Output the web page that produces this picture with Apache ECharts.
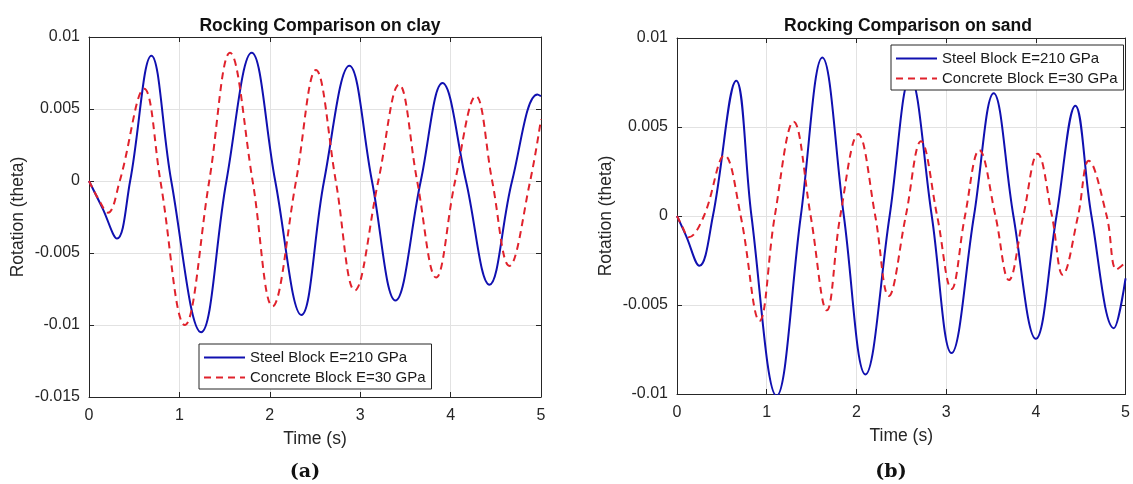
<!DOCTYPE html>
<html>
<head>
<meta charset="utf-8">
<script src="https://cdn.jsdelivr.net/npm/echarts@6/dist/echarts.min.js"></script>
<style>
html,body{margin:0;padding:0;background:#fff;}
#c{width:1133px;height:484px;}
</style>
</head>
<body>
<div id="c"></div>
<script>
// ---------- data ----------
const seriesNames = ['Steel Block E=210 GPa', 'Concrete Block E=30 GPa'];
const titles = ['Rocking Comparison on clay', 'Rocking Comparison on sand'];
const captions = ['a', 'b'];
const xTicks = [0, 1, 2, 3, 4, 5];
const yTicksClay = [-0.015, -0.01, -0.005, 0, 0.005, 0.01];
const yTicksSand = [-0.01, -0.005, 0, 0.005, 0.01];

// Clay - steel (solid blue)
const claySteelT = [0, 0.15, 0.31, 0.455, 0.69, 0.91, 1.24, 1.52, 1.80, 2.06, 2.35, 2.60, 2.88, 3.13, 3.39, 3.67, 3.91, 4.17, 4.43, 4.68, 4.96, 5.0];
const claySteelV = [0, -0.0019, -0.0040, 0, 0.0087, 0, -0.0105, 0, 0.0089, 0, -0.0093, 0, 0.0080, 0, -0.0083, 0, 0.0068, 0, -0.0072, 0, 0.0060, 0.0059];
// Clay - concrete (dashed red)
const clayConcT = [0, 0.10, 0.21, 0.34, 0.61, 0.79, 1.06, 1.33, 1.56, 1.81, 2.03, 2.29, 2.51, 2.73, 2.94, 3.20, 3.43, 3.63, 3.84, 4.05, 4.28, 4.46, 4.65, 4.88, 5.0];
const clayConcV = [0, -0.0012, -0.0022, 0, 0.0064, 0, -0.0100, 0, 0.0089, 0, -0.0087, 0, 0.0077, 0, -0.0076, 0, 0.0067, 0, -0.0067, 0, 0.0059, 0, -0.0059, 0, 0.0043];
// Sand - steel (solid blue)
const sandSteelT = [0, 0.10, 0.25, 0.40, 0.66, 0.83, 1.11, 1.38, 1.62, 1.86, 2.10, 2.37, 2.60, 2.84, 3.06, 3.31, 3.53, 3.75, 4.00, 4.23, 4.44, 4.62, 4.87, 5.0];
const sandSteelV = [0, -0.0011, -0.0028, 0, 0.0076, 0, -0.0101, 0, 0.0089, 0, -0.0089, 0, 0.0078, 0, -0.0077, 0, 0.0069, 0, -0.0069, 0, 0.0062, 0, -0.0063, -0.0035];
// Sand - concrete (dashed red)
const sandConcT = [0, 0.06, 0.13, 0.30, 0.53, 0.71, 0.92, 1.09, 1.30, 1.49, 1.67, 1.82, 2.02, 2.21, 2.36, 2.55, 2.72, 2.90, 3.06, 3.21, 3.37, 3.55, 3.70, 3.86, 4.02, 4.18, 4.30, 4.47, 4.59, 4.79, 4.90, 5.0];
const sandConcV = [0, -0.0006, -0.0012, 0, 0.0034, 0, -0.0059, 0, 0.0053, 0, -0.0053, 0, 0.0046, 0, -0.0045, 0, 0.0042, 0, -0.0041, 0, 0.0037, 0, -0.0036, 0, 0.0035, 0, -0.0033, 0, 0.0031, 0, -0.0030, -0.0026];

// ---------- chart ----------
const pairs = (t, v) => t.map((x, i) => [x, v[i]]);
const FONT = '"Liberation Sans", Arial, Helvetica, sans-serif';
const AX = '#262626';
const BLUE = '#1010b0';
const RED = '#e0222c';

const grids = [
  {left: 89, top: 37, width: 452, height: 360},
  {left: 677, top: 38, width: 452, height: 356}
];
const yRanges = [yTicksClay, yTicksSand];

const xAxes = [], yAxes = [];
grids.forEach((g, i) => {
  const xBase = {
    type: 'value', gridIndex: i, min: xTicks[0], max: xTicks[xTicks.length - 1], interval: 1,
    axisLine: {show: true, onZero: false, lineStyle: {color: AX, width: 1}},
    axisTick: {show: true, inside: true, length: 5, lineStyle: {color: AX}}
  };
  xAxes.push(Object.assign({}, xBase, {
    position: 'bottom',
    name: 'Time (s)', nameLocation: 'middle', nameGap: 33,
    nameTextStyle: {fontFamily: FONT, fontSize: 17.5, color: AX},
    axisLabel: {fontFamily: FONT, fontSize: 16, color: AX, margin: 11},
    splitLine: {show: true, lineStyle: {color: '#e2e2e2', width: 1}}
  }));
  xAxes.push(Object.assign({}, xBase, {
    position: 'top', axisLabel: {show: false}, splitLine: {show: false}
  }));
  const yt = yRanges[i];
  const yBase = {
    type: 'value', gridIndex: i, min: yt[0], max: yt[yt.length - 1], interval: 0.005,
    axisLine: {show: true, onZero: false, lineStyle: {color: AX, width: 1}},
    axisTick: {show: true, inside: true, length: 5, lineStyle: {color: AX}}
  };
  yAxes.push(Object.assign({}, yBase, {
    position: 'left',
    name: 'Rotation (theta)', nameLocation: 'middle', nameGap: 62,
    nameTextStyle: {fontFamily: FONT, fontSize: 17.5, color: AX},
    axisLabel: {fontFamily: FONT, fontSize: 16, color: AX, margin: 9},
    splitLine: {show: true, lineStyle: {color: '#e2e2e2', width: 1}}
  }));
  yAxes.push(Object.assign({}, yBase, {
    position: 'right', axisLabel: {show: false}, splitLine: {show: false}
  }));
});

const dataSets = [
  [pairs(claySteelT, claySteelV), pairs(clayConcT, clayConcV)],
  [pairs(sandSteelT, sandSteelV), pairs(sandConcT, sandConcV)]
];
const series = [];
dataSets.forEach((ds, i) => {
  series.push({
    type: 'line', name: seriesNames[0], xAxisIndex: i * 2, yAxisIndex: i * 2,
    data: ds[0], smooth: 0.4, symbol: 'none', showSymbol: false,
    lineStyle: {color: BLUE, width: 2}, itemStyle: {color: BLUE}, animation: false
  });
  series.push({
    type: 'line', name: seriesNames[1], xAxisIndex: i * 2, yAxisIndex: i * 2,
    data: ds[1], smooth: 0.4, symbol: 'none', showSymbol: false,
    lineStyle: {color: RED, width: 2, type: [7, 5]}, itemStyle: {color: RED}, animation: false
  });
});

const legendBase = {
  orient: 'vertical', data: seriesNames, itemWidth: 41, itemHeight: 14, itemGap: 5,
  padding: [6, 6, 4, 4], backgroundColor: '#ffffff', borderColor: AX, borderWidth: 1,
  itemStyle: {color: 'rgba(0,0,0,0)', borderWidth: 0, opacity: 0},
  textStyle: {fontFamily: FONT, fontSize: 15, color: '#1a1a1a'}, selectedMode: false, z: 10
};

const titleComps = [];
titles.forEach((t, i) => {
  const g = grids[i];
  titleComps.push({
    text: t, left: g.left + g.width / 2, top: 12, textAlign: 'center',
    textStyle: {fontFamily: FONT, fontSize: 17.5, fontWeight: 'bold', color: '#111'}
  });
});
const capX = [300, 886];
captions.forEach((c, i) => {
  titleComps.push({
    text: '{p|(}{b|' + c + '}{p|)}', left: capX[i], top: 458, textAlign: 'center',
    textStyle: {rich: {
      p: {fontFamily: '"DejaVu Serif", "Liberation Serif", serif', fontSize: 19, color: '#111'},
      b: {fontFamily: '"DejaVu Serif", "Liberation Serif", serif', fontSize: 19, fontWeight: 'bold', color: '#111'}
    }}
  });
});

const chart = echarts.init(document.getElementById('c'), null, {renderer: 'canvas'});
chart.setOption({
  backgroundColor: '#ffffff',
  animation: false,
  title: titleComps,
  grid: grids,
  xAxis: xAxes,
  yAxis: yAxes,
  legend: [
    Object.assign({}, legendBase, {left: 199, top: 344}),
    Object.assign({}, legendBase, {left: 891, top: 45})
  ],
  series: series
});
</script>
</body>
</html>
